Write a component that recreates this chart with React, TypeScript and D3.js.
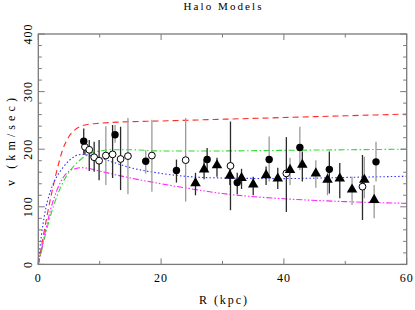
import { useEffect, useRef } from "react";
import * as d3 from "d3";

const xTicks = [0, 20, 40, 60];
const yTicks = [0, 100, 200, 300, 400];

// [R (kpc), v (km/sec), v low, v high, survey]
type Obs = [number, number, number, number, string];

const openCircles: Obs[] = [
  [7.6, 204, 190, 218, "a"],
  [8.3, 199, 162, 216, "a"],
  [9.1, 186, 161, 213, "a"],
  [9.9, 180, 146, 216, "a"],
  [11.0, 189, 138, 240, "b"],
  [12.1, 191, 150, 242, "a"],
  [13.4, 183, 129, 239, "a"],
  [14.6, 188, 122, 254, "b"],
  [18.5, 189, 126, 251, "b"],
  [24.0, 181, 109, 254, "b"],
  [31.3, 171, 94, 248, "a"],
  [40.4, 158, 91, 221, "a"],
  [52.8, 135, 77, 190, "a"],
];

const filledCircles: Obs[] = [
  [7.4, 214, 192, 236, "a"],
  [12.5, 225, 211, 242, "b"],
  [17.5, 179, 158, 198, "b"],
  [22.5, 163, 142, 182, "a"],
  [27.5, 182, 164, 202, "a"],
  [32.4, 142, 122, 159, "a"],
  [37.6, 182, 144, 222, "b"],
  [42.6, 203, 164, 239, "b"],
  [47.4, 165, 123, 196, "a"],
  [55.0, 178, 144, 213, "b"],
];

const triangles: Obs[] = [
  [25.6, 141, 120, 159, "a"],
  [27.0, 165, 148, 182, "a"],
  [29.1, 172, 152, 185, "a"],
  [31.2, 154, 138, 170, "a"],
  [33.1, 150, 131, 166, "a"],
  [35.0, 139, 120, 152, "a"],
  [37.1, 155, 138, 170, "a"],
  [39.0, 149, 131, 168, "a"],
  [41.0, 164, 138, 185, "b"],
  [43.0, 173, 144, 196, "a"],
  [45.2, 158, 133, 181, "b"],
  [47.1, 147, 120, 159, "b"],
  [49.1, 149, 115, 176, "a"],
  [51.1, 130, 103, 152, "b"],
  [53.1, 147, 115, 187, "b"],
  [54.7, 112, 80, 138, "b"],
];

// halo model curves: [R, v]
const modelRed: [number, number][] = [
  [0, 0], [0.5, 30], [1, 60], [2, 115], [3, 162], [4, 200], [5, 222], [6, 234],
  [7, 240], [8, 243], [10, 245], [13, 247], [20, 249], [30, 252], [40, 255],
  [50, 258], [60, 261],
];
const modelGreen: [number, number][] = [
  [0, 0], [0.5, 22], [1, 45], [2, 85], [3, 117], [4, 142], [5, 160], [6, 173],
  [7, 183], [8, 190], [10, 197], [12, 199], [15, 199], [20, 197], [30, 197],
  [40, 198], [50, 199], [60, 200],
];
const modelBlue: [number, number][] = [
  [0, 0], [0.5, 50], [1, 85], [2, 128], [3, 152], [4, 168], [5, 180], [6, 188],
  [7, 191], [8, 190], [10, 185], [12, 178], [15, 168], [20, 158], [25, 152],
  [30, 150], [40, 149], [50, 151], [60, 153],
];
const modelMagenta: [number, number][] = [
  [0, 0], [0.5, 25], [1, 50], [2, 95], [3, 128], [4, 150], [5, 162], [6, 166],
  [7, 168], [8, 167], [10, 162], [12, 157], [15, 150], [20, 140], [25, 131],
  [30, 123], [40, 114], [50, 109], [60, 106],
];

export default function App() {
  const ref = useRef<SVGSVGElement>(null);

  useEffect(() => {
    const width = 415;
    const height = 310;
    const left = 38.3;
    const right = 406.7;
    const top = 34;
    const bottom = 264.4;
    const font = "'Liberation Serif', serif";
    const frameColor = "#7a7a7a";

    const svg = d3.select(ref.current);
    svg.selectAll("*").remove();

    const x = d3.scaleLinear().domain([0, 60]).range([left, right]);
    const y = d3.scaleLinear().domain([0, 400]).range([bottom, top]);

    svg
      .append("rect")
      .attr("width", width)
      .attr("height", height)
      .attr("fill", "white");

    // model curves
    const models = [
      { pts: modelRed, color: "#ff2a2a", dash: "6,4" },
      { pts: modelGreen, color: "#2fdc2f", dash: "6,2.5,1.5,2.5" },
      { pts: modelBlue, color: "#3434ff", dash: "1.5,2.2" },
      { pts: modelMagenta, color: "#ff22ff", dash: "6,2,1.5,2,1.5,2" },
    ];
    const line = d3
      .line<[number, number]>()
      .x((d) => x(d[0]))
      .y((d) => y(d[1]))
      .curve(d3.curveMonotoneX);

    svg
      .append("g")
      .selectAll("path")
      .data(models)
      .join("path")
      .attr("d", (d) => line(d.pts))
      .attr("fill", "none")
      .attr("stroke", (d) => d.color)
      .attr("stroke-width", 1.1)
      .attr("stroke-dasharray", (d) => d.dash);

    // error bars
    const all = [...openCircles, ...filledCircles, ...triangles];
    svg
      .append("g")
      .selectAll("line")
      .data(all)
      .join("line")
      .attr("x1", (d) => x(d[0]))
      .attr("x2", (d) => x(d[0]))
      .attr("y1", (d) => y(d[2]))
      .attr("y2", (d) => y(d[3]))
      .attr("stroke", (d) => (d[4] === "a" ? "#2a2a2a" : "#9a9a9a"))
      .attr("stroke-width", 1.3);

    // markers
    svg
      .append("g")
      .selectAll("circle")
      .data(openCircles)
      .join("circle")
      .attr("cx", (d) => x(d[0]))
      .attr("cy", (d) => y(d[1]))
      .attr("r", 3.4)
      .attr("fill", "white")
      .attr("stroke", "black")
      .attr("stroke-width", 1);

    svg
      .append("g")
      .selectAll("circle")
      .data(filledCircles)
      .join("circle")
      .attr("cx", (d) => x(d[0]))
      .attr("cy", (d) => y(d[1]))
      .attr("r", 3.7)
      .attr("fill", "black");

    const tri = d3.symbol(d3.symbolTriangle, 48);
    svg
      .append("g")
      .selectAll("path")
      .data(triangles)
      .join("path")
      .attr("d", tri)
      .attr("transform", (d) => `translate(${x(d[0])},${y(d[1])})`)
      .attr("fill", "black");

    // frame
    svg
      .append("rect")
      .attr("x", left)
      .attr("y", top)
      .attr("width", right - left)
      .attr("height", bottom - top)
      .attr("fill", "none")
      .attr("stroke", frameColor)
      .attr("stroke-width", 1.3);

    // ticks on all four sides, pointing inward
    const ticks = svg.append("g").attr("stroke", frameColor).attr("stroke-width", 1);
    d3.range(0, 61, 10).forEach((v) => {
      const len = v % 20 === 0 ? 6 : 3.5;
      ticks.append("line").attr("x1", x(v)).attr("x2", x(v)).attr("y1", bottom).attr("y2", bottom - len);
      ticks.append("line").attr("x1", x(v)).attr("x2", x(v)).attr("y1", top).attr("y2", top + len);
    });
    d3.range(0, 401, 20).forEach((v) => {
      const len = v % 100 === 0 ? 6.5 : 3.5;
      ticks.append("line").attr("y1", y(v)).attr("y2", y(v)).attr("x1", left).attr("x2", left + len);
      ticks.append("line").attr("y1", y(v)).attr("y2", y(v)).attr("x1", right).attr("x2", right - len);
    });

    // tick labels
    svg
      .append("g")
      .selectAll("text")
      .data(xTicks)
      .join("text")
      .attr("x", (d) => x(d))
      .attr("y", 282)
      .attr("text-anchor", "middle")
      .attr("font-family", font)
      .attr("font-size", 12)
      .attr("letter-spacing", 1)
      .text((d) => d);

    svg
      .append("g")
      .selectAll("text")
      .data(yTicks)
      .join("text")
      .attr("transform", (d) => `translate(32,${y(d)}) rotate(-90)`)
      .attr("text-anchor", "middle")
      .attr("font-family", font)
      .attr("font-size", 12)
      .attr("letter-spacing", 1)
      .text((d) => d);

    // titles
    svg
      .append("text")
      .attr("x", 222.5)
      .attr("y", 9.5)
      .attr("text-anchor", "middle")
      .attr("font-family", font)
      .attr("font-size", 11)
      .attr("textLength", 78)
      .attr("lengthAdjust", "spacing")
      .text("Halo Models");

    svg
      .append("text")
      .attr("x", 223)
      .attr("y", 304)
      .attr("text-anchor", "middle")
      .attr("font-family", font)
      .attr("font-size", 12)
      .attr("textLength", 48)
      .attr("lengthAdjust", "spacing")
      .text("R (kpc)");

    svg
      .append("text")
      .attr("transform", "translate(15,142) rotate(-90)")
      .attr("text-anchor", "middle")
      .attr("font-family", font)
      .attr("font-size", 12)
      .attr("textLength", 88)
      .attr("lengthAdjust", "spacing")
      .text("v (km/sec)");
  }, []);

  return (
    <svg
      ref={ref}
      width={415}
      height={310}
      style={{ position: "absolute", left: 0, top: 0, display: "block" }}
    />
  );
}
